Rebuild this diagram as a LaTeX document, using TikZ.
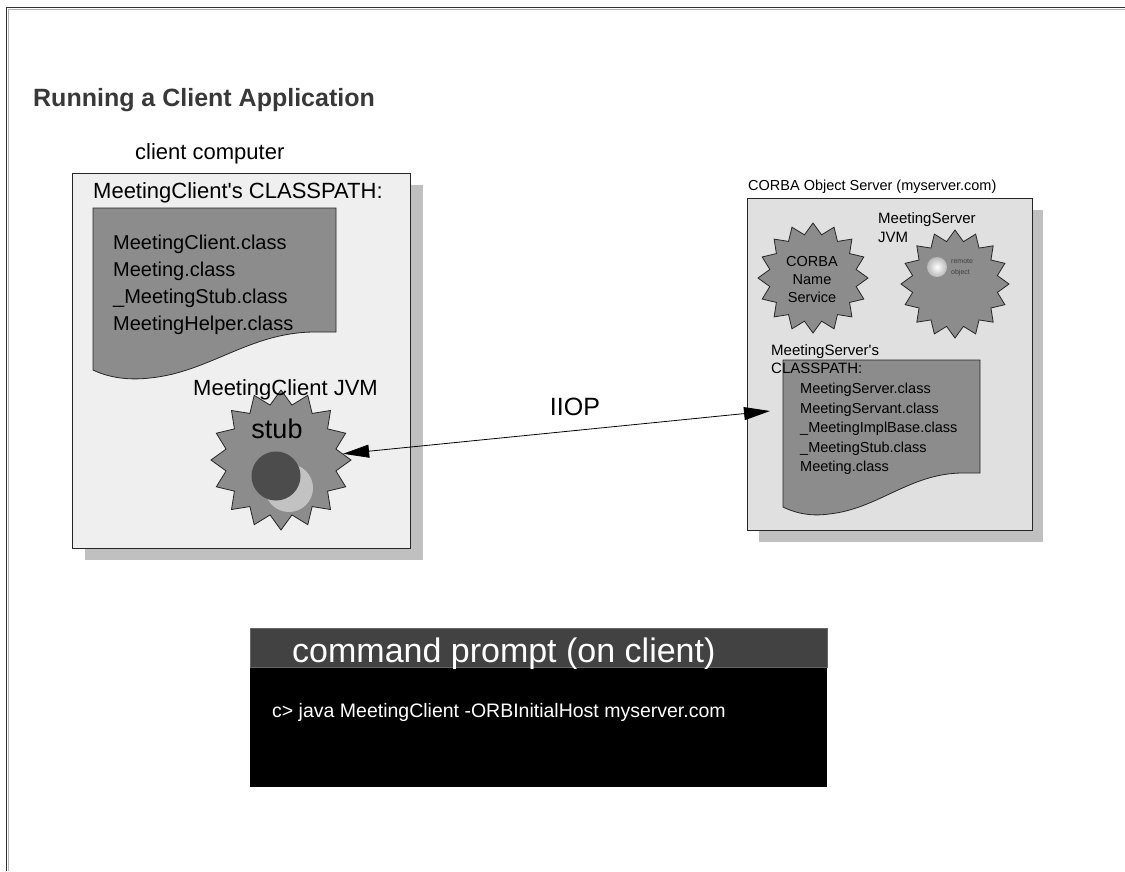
\documentclass[tikz,border=0pt]{standalone}
\usepackage{fontspec}
\setmainfont{Liberation Sans}
\usetikzlibrary{shapes.geometric,arrows.meta}
\definecolor{docgray}{HTML}{8C8C8C}
\definecolor{shadowgray}{HTML}{C0C0C0}
\definecolor{clientfill}{HTML}{EFEFEF}
\definecolor{serverfill}{HTML}{E0E0E0}
\definecolor{framegray}{HTML}{333333}
\definecolor{titlegray}{HTML}{383838}
\definecolor{bargray}{HTML}{424242}
\newcommand{\myfs}[1]{\fontsize{#1}{#1}\selectfont}
\begin{document}
\begin{tikzpicture}[x=1pt,y=-1pt,
  outline/.style={draw=black!85, line width=0.8pt},
  shadowbox/.style={fill=shadowgray},
  docshape/.style={outline, fill=docgray},
  burst/.style={star, star points=16, star point ratio=1.25, outline, fill=docgray, inner sep=0pt},
  lbl/.style={anchor=base west, inner sep=0pt},
  clbl/.style={anchor=base, inner sep=0pt},
  bigarrow/.style={line width=0.8pt, {Triangle[length=26pt,width=13pt]}-{Triangle[length=26pt,width=13pt]}}
]
\useasboundingbox (0,0) rectangle (1125,871);
% page frame
\draw[framegray, line width=1.4pt] (1125,7.5) -- (6.5,7.5) -- (6.5,871);
\draw[gray!60, line width=0.8pt] (1125,9.3) -- (8.3,9.3) -- (8.3,871);

% title
\node[lbl] (title) at (33,106) {\myfs{25}\bfseries\color{titlegray}Running a Client Application};

% ---------- client computer ----------
\node[lbl] (clientlbl) at (135,159) {\myfs{22}client computer};
\fill[shadowbox] (85,185) rectangle (423,560);
\filldraw[outline, fill=clientfill] (72,173) rectangle (410,548);
\node[lbl] (ccp) at (93,198) {\myfs{22}MeetingClient\textquotesingle s CLASSPATH:};
\draw[docshape] (93,208) -- (336,208) -- (336,332) -- (315,332)
  .. controls (250,332) and (210,372) .. (150,378)
  .. controls (125,381) and (105,376) .. (93,370) -- cycle;
\node[lbl] (c1) at (113,249) {\myfs{20}MeetingClient.class};
\node[lbl] (c2) at (113,276) {\myfs{20}Meeting.class};
\node[lbl] (c3) at (113,303) {\myfs{20}\_MeetingStub.class};
\node[lbl] (c4) at (113,330) {\myfs{20}MeetingHelper.class};

\node[burst, minimum size=140pt] (stub) at (281,460) {};
\node[lbl] (cjvm) at (193,395) {\myfs{22}MeetingClient JVM};
\node[clbl] (stubtxt) at (277,438) {\myfs{27}stub};
\fill[fill=black!24] (289,488) circle (24);
\fill[fill=black!70] (276,476) circle (24.5);

% ---------- server ----------
\node[lbl] (srvlbl) at (748,190) {\myfs{14.5}CORBA Object Server (myserver.com)};
\fill[shadowbox] (759,210) rectangle (1043,542);
\filldraw[outline, fill=serverfill] (747,198) rectangle (1032,530);
\node[lbl] (sjvm1) at (878,223) {\myfs{15}MeetingServer};
\node[lbl] (sjvm2) at (878,242) {\myfs{15}JVM};

\node[burst, minimum size=110pt] (naming) at (813,278) {};
\node[clbl] (n1) at (812,266) {\myfs{14.5}CORBA};
\node[clbl] (n2) at (812,284) {\myfs{14.5}Name};
\node[clbl] (n3) at (812,302) {\myfs{14.5}Service};

\node[burst, minimum size=108pt] (remote) at (955,284) {};
\shade[inner color=white, outer color=gray!55] (937,267) circle (10);
\node[lbl] (r1) at (951,263.5) {\myfs{7}\color{black!75}remote};
\node[lbl] (r2) at (951,274.5) {\myfs{7}\color{black!75}object};

\draw[docshape] (783,360) -- (980,360) -- (980,473) -- (963,473)
  .. controls (910,473) and (878,509) .. (829,514)
  .. controls (809,517) and (793,512) .. (783,507) -- cycle;
\node[lbl] (scp1) at (771,355) {\myfs{15}MeetingServer\textquotesingle s};
\node[lbl] (scp2) at (771,373) {\myfs{15}CLASSPATH:};
\node[lbl] (s1) at (800,393) {\myfs{14.5}MeetingServer.class};
\node[lbl] (s2) at (800,413) {\myfs{14.5}MeetingServant.class};
\node[lbl] (s3) at (800,432) {\myfs{14.5}\_MeetingImplBase.class};
\node[lbl] (s4) at (800,452) {\myfs{14.5}\_MeetingStub.class};
\node[lbl] (s5) at (800,471) {\myfs{14.5}Meeting.class};

% ---------- IIOP connector ----------
\coordinate (iiopR) at (770,411);
\draw[bigarrow] (stub) -- (iiopR);
\node[clbl] (iiop) at (575,415) {\myfs{25}IIOP};

% ---------- command prompt ----------
\fill[black] (250,628) rectangle (827,787);
\filldraw[fill=bargray, draw=black!60, line width=0.6pt] (250,628) rectangle (827,667);
\node[lbl] (cmdtitle) at (292,662) {\myfs{34}\color{white}command prompt (on client)};
\node[lbl] (cmdline) at (272,717) {\myfs{19.5}\color{white}c> java MeetingClient -ORBInitialHost myserver.com};
\end{tikzpicture}
\end{document}
